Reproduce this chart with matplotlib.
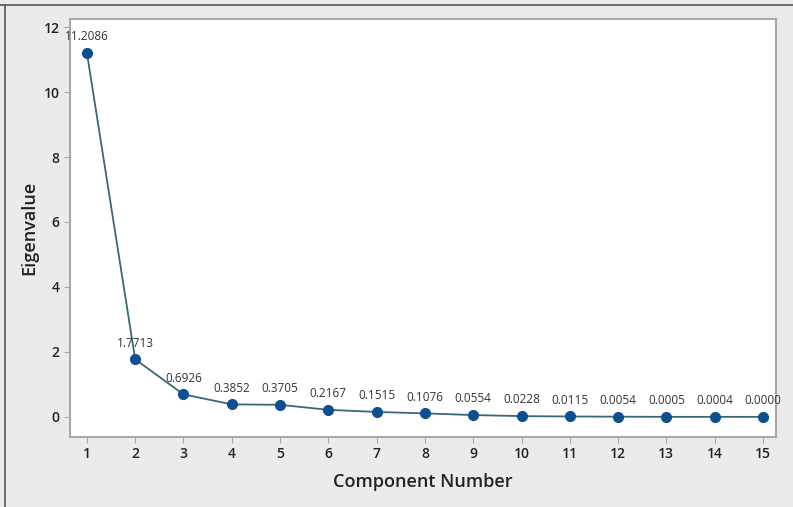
import matplotlib.pyplot as plt
from matplotlib.lines import Line2D

# scree plot data
components = list(range(1, 16))
eigenvalues = [11.2086, 1.7713, 0.6926, 0.3852, 0.3705, 0.2167, 0.1515, 0.1076,
               0.0554, 0.0228, 0.0115, 0.0054, 0.0005, 0.0004, 0.0000]
labels = ["11.2086", "1.7713", "0.6926", "0.3852", "0.3705", "0.2167", "0.1515", "0.1076",
          "0.0554", "0.0228", "0.0115", "0.0054", "0.0005", "0.0004", "0.0000"]

plt.rcParams['font.family'] = ['Open Sans', 'DejaVu Sans']

fig = plt.figure(figsize=(7.93, 5.07), dpi=100, facecolor="#ebebeb")
ax = fig.add_axes([70 / 793, 1 - 437 / 507, 706 / 793, 418 / 507])
ax.set_facecolor("white")

ax.plot(components, eigenvalues, color="#3b6878", linewidth=1.3,
        marker="o", markersize=7, markerfacecolor="#0d4f8f", markeredgecolor="#0d4f8f")

for x, y, s in zip(components, eigenvalues, labels):
    ax.annotate(s, (x, y), xytext=(0, 7), textcoords="offset points",
                ha="center", va="bottom", fontsize=8.5, color="#333333")

ax.set_xlim(0.65, 15.27)
ax.set_ylim(-0.62, 12.25)
ax.set_xticks(components)
ax.set_yticks([0, 2, 4, 6, 8, 10, 12])

for side in ax.spines.values():
    side.set_color("#a8a8a8")
    side.set_linewidth(1.5)

ax.tick_params(direction="out", color="#a8a8a8", length=4, labelsize=10,
               labelcolor="#222222")
for lbl in ax.get_xticklabels() + ax.get_yticklabels():
    lbl.set_fontweight("semibold")
ax.set_xlabel("Component Number", fontsize=13, color="#222222", labelpad=8,
              fontweight="semibold")
ax.set_ylabel("Eigenvalue", fontsize=13, color="#222222", labelpad=4,
              fontweight="semibold")

# dark frame edges of the screenshot
fig.add_artist(Line2D([0, 1], [1 - 5 / 507, 1 - 5 / 507], color="#555555", linewidth=1.2))
fig.add_artist(Line2D([5 / 793, 5 / 793], [0, 1 - 5 / 507], color="#555555", linewidth=1.2))

fig.savefig("out.png", dpi=100, facecolor=fig.get_facecolor())
